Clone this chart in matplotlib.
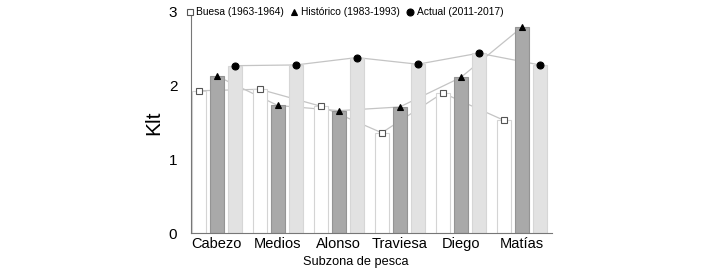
import matplotlib
matplotlib.use("Agg")
import matplotlib.pyplot as plt
import numpy as np

categories = ["Cabezo", "Medios", "Alonso", "Traviesa", "Diego", "Matías"]
buesa = [1.93, 1.95, 1.72, 1.36, 1.90, 1.53]
historico = [2.13, 1.73, 1.66, 1.71, 2.11, 2.79]
actual = [2.27, 2.28, 2.38, 2.29, 2.44, 2.28]
labels = ["Buesa (1963-1964)", "Histórico (1983-1993)", "Actual (2011-2017)"]
yticks = [0, 1, 2, 3]

plt.rcParams['font.family'] = ['Liberation Sans', 'DejaVu Sans']

fig = plt.figure(figsize=(7.08, 2.70), dpi=100)
ax = fig.add_axes([0.270, 0.137, 0.510, 0.819])

x = np.arange(len(categories))
off = 0.295
w = 0.235

series = [
    (buesa, -off, "white", "#d4d4d4", "s", "white"),
    (historico, 0.0, "#a9a9a9", "#949494", "^", "black"),
    (actual, off, "#e2e2e2", "#d6d6d6", "o", "black"),
]
handles = []
for (vals, o, fc, ec, mk, mfc), lab in zip(series, labels):
    ax.bar(x + o, vals, width=w, color=fc, edgecolor=ec, linewidth=0.8, zorder=2)
    ax.plot(x + o, vals, color="#c4c4c4", linewidth=0.9, zorder=1)
    h, = ax.plot(x + o, vals, linestyle="none", marker=mk, markersize=5 if mk != "s" else 4.5,
                 markerfacecolor=mfc, markeredgecolor="black" if mk != "s" else "#555555",
                 markeredgewidth=0.8, zorder=3, label=lab)
    handles.append(h)

ax.set_xlim(-0.42, 5.5)
ax.set_ylim(0, 3)
ax.set_yticks(yticks)
ax.set_xticks(x)
ax.set_xticklabels(categories, fontsize=10.5)
ax.tick_params(axis="both", length=0, labelsize=10.5, pad=3)
ax.tick_params(axis="y", pad=10, labelsize=11)
ax.set_xlabel("Subzona de pesca", fontsize=9.2, labelpad=3)
ax.xaxis.set_label_coords(0.457, -0.105)
ax.set_ylabel("Klt", fontsize=15, labelpad=4)
for s in ["top", "right"]:
    ax.spines[s].set_visible(False)
ax.spines["left"].set_color("#777777")
ax.spines["bottom"].set_color("#777777")

ax.legend(handles=handles, loc="upper left", bbox_to_anchor=(-0.03, 1.04), ncol=3, frameon=False,
          fontsize=7.4, handlelength=1.0, handletextpad=0.15, columnspacing=0.5, borderaxespad=0)

fig.savefig("out.png", dpi=100)
